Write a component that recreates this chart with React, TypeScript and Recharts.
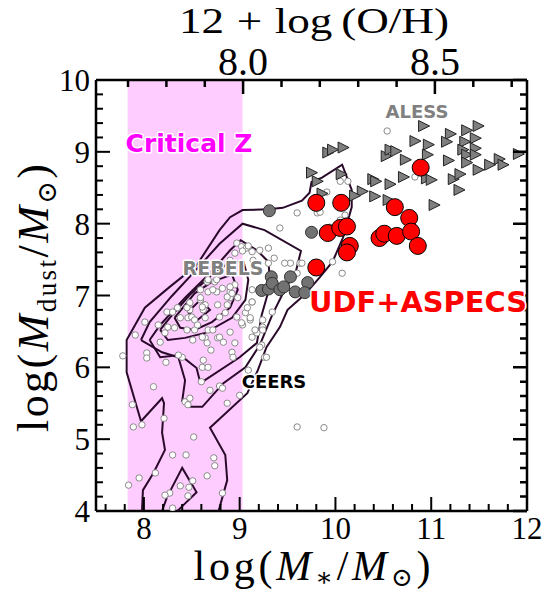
import { ComposedChart, Scatter, XAxis, YAxis, ReferenceArea } from "recharts";

// axis ticks
const massTicks = [7.6, 7.8, 8, 8.2, 8.4, 8.6, 8.8, 9, 9.2, 9.4, 9.6, 9.8, 10, 10.2, 10.4, 10.6, 10.8, 11, 11.2, 11.4, 11.6, 11.8, 12];
const massLabels = [8, 9, 10, 11, 12];
const dustTicks = [4, 4.2, 4.4, 4.6, 4.8, 5, 5.2, 5.4, 5.6, 5.8, 6, 6.2, 6.4, 6.6, 6.8, 7, 7.2, 7.4, 7.6, 7.8, 8, 8.2, 8.4, 8.6, 8.8, 9, 9.2, 9.4, 9.6, 9.8, 10];
const dustLabels = [4, 5, 6, 7, 8, 9, 10];
const ohTicks = [7.7, 7.8, 7.9, 8.0, 8.1, 8.2, 8.3, 8.4, 8.5, 8.6, 8.7];
const ohLabels = [8.0, 8.5];

const massDomain = [7.5, 12];
const dustDomain = [4, 10];
const ohDomain = [7.6165, 8.74];

// critical metallicity band (in stellar mass units)
const criticalZ = [7.83, 9.03];

// CEERS density contours
const contour1 = [
  { x: 8.78, y: 4.0 }, { x: 8.87, y: 4.43 }, { x: 8.85, y: 4.78 }, { x: 8.69, y: 5.16 }, { x: 9.08, y: 5.64 },
  { x: 9.19, y: 5.96 }, { x: 9.28, y: 6.28 }, { x: 9.42, y: 6.56 }, { x: 9.5, y: 6.8 }, { x: 9.65, y: 6.98 },
  { x: 9.75, y: 7.12 }, { x: 9.84, y: 7.26 }, { x: 9.97, y: 7.47 }, { x: 10.08, y: 7.81 }, { x: 10.17, y: 8.23 },
  { x: 10.17, y: 8.47 }, { x: 10.07, y: 8.82 }, { x: 9.86, y: 8.64 }, { x: 9.75, y: 8.58 }, { x: 9.73, y: 8.43 },
  { x: 9.65, y: 8.32 }, { x: 9.45, y: 8.22 }, { x: 9.3, y: 8.2 }, { x: 9.03, y: 8.19 }, { x: 8.9, y: 8.09 },
  { x: 8.79, y: 7.91 }, { x: 8.55, y: 7.42 }, { x: 8.27, y: 7.12 }, { x: 8.01, y: 6.83 }, { x: 7.82, y: 6.38 },
  { x: 7.82, y: 5.93 }, { x: 7.97, y: 5.25 }, { x: 8.19, y: 5.57 }, { x: 8.21, y: 5.5 }, { x: 8.19, y: 5.09 },
  { x: 8.22, y: 4.85 }, { x: 8.1, y: 4.53 }, { x: 7.99, y: 4.29 }, { x: 7.98, y: 4.0 },
];
const contour2 = [
  { x: 7.97, y: 6.38 }, { x: 8.06, y: 6.63 }, { x: 8.29, y: 6.99 }, { x: 8.54, y: 7.35 }, { x: 8.79, y: 7.72 },
  { x: 9.03, y: 8.0 }, { x: 9.26, y: 7.91 }, { x: 9.64, y: 7.62 }, { x: 9.59, y: 7.35 }, { x: 9.47, y: 7.08 },
  { x: 9.34, y: 6.73 }, { x: 9.21, y: 6.31 }, { x: 9.06, y: 6.0 }, { x: 8.83, y: 5.78 }, { x: 8.61, y: 5.45 },
  { x: 8.48, y: 5.45 }, { x: 8.4, y: 5.53 }, { x: 8.43, y: 5.82 }, { x: 8.36, y: 6.14 }, { x: 8.19, y: 6.21 },
  { x: 7.97, y: 6.38 },
];
const contour2b = [
  { x: 8.19, y: 4.0 }, { x: 8.24, y: 4.19 }, { x: 8.4, y: 4.6 }, { x: 8.55, y: 4.26 }, { x: 8.38, y: 4.04 }, { x: 8.35, y: 4.0 },
];
const contour3 = [
  { x: 8.06, y: 6.38 }, { x: 8.17, y: 6.59 }, { x: 8.43, y: 6.97 }, { x: 8.69, y: 7.31 }, { x: 8.9, y: 7.63 },
  { x: 9.01, y: 7.77 }, { x: 9.18, y: 7.63 }, { x: 9.3, y: 7.47 }, { x: 9.32, y: 7.15 }, { x: 9.23, y: 6.73 },
  { x: 9.18, y: 6.34 }, { x: 9.0, y: 6.14 }, { x: 8.59, y: 5.78 }, { x: 8.55, y: 5.99 }, { x: 8.38, y: 6.17 },
  { x: 8.17, y: 6.14 }, { x: 8.06, y: 6.38 },
];
const contour4 = [
  { x: 8.17, y: 6.52 }, { x: 8.27, y: 6.69 }, { x: 8.48, y: 7.01 }, { x: 8.71, y: 7.29 }, { x: 8.9, y: 7.47 },
  { x: 9.04, y: 7.47 }, { x: 9.09, y: 7.22 }, { x: 9.06, y: 6.94 }, { x: 8.92, y: 6.69 }, { x: 8.64, y: 6.48 },
  { x: 8.43, y: 6.41 }, { x: 8.25, y: 6.38 }, { x: 8.17, y: 6.52 },
];
const contour5 = [
  { x: 8.32, y: 6.69 }, { x: 8.53, y: 7.03 }, { x: 8.71, y: 7.19 }, { x: 8.92, y: 7.29 }, { x: 8.98, y: 7.08 },
  { x: 8.9, y: 6.83 }, { x: 8.71, y: 6.63 }, { x: 8.53, y: 6.52 }, { x: 8.38, y: 6.55 }, { x: 8.32, y: 6.69 },
];
const contour6 = [
  { x: 8.46, y: 6.77 }, { x: 8.59, y: 6.94 }, { x: 8.69, y: 6.8 }, { x: 8.56, y: 6.66 }, { x: 8.46, y: 6.77 },
];
const contours = [contour1, contour2, contour2b, contour3, contour4, contour5, contour6];

// CEERS galaxies
const ceers = [
  { x: 8.66, y: 7.19 }, { x: 8.74, y: 7.19 }, { x: 8.95, y: 7.15 }, { x: 8.59, y: 7.08 }, { x: 8.67, y: 7.05 },
  { x: 8.76, y: 7.05 }, { x: 8.9, y: 7.05 }, { x: 8.98, y: 6.97 }, { x: 8.9, y: 6.97 }, { x: 8.48, y: 6.9 },
  { x: 8.59, y: 6.94 }, { x: 8.64, y: 6.87 }, { x: 8.77, y: 6.87 }, { x: 8.87, y: 6.87 }, { x: 9.13, y: 6.91 },
  { x: 8.24, y: 6.77 }, { x: 8.35, y: 6.83 }, { x: 8.48, y: 6.8 }, { x: 8.62, y: 6.8 }, { x: 8.38, y: 6.69 },
  { x: 8.46, y: 6.69 }, { x: 8.64, y: 6.69 }, { x: 8.85, y: 6.76 }, { x: 8.97, y: 6.7 }, { x: 9.11, y: 6.66 },
  { x: 9.03, y: 6.59 }, { x: 8.01, y: 6.63 }, { x: 8.15, y: 6.59 }, { x: 8.45, y: 6.52 }, { x: 8.53, y: 6.52 },
  { x: 8.67, y: 6.52 }, { x: 9.24, y: 6.56 }, { x: 9.18, y: 6.48 }, { x: 7.91, y: 6.45 }, { x: 8.22, y: 6.48 },
  { x: 8.64, y: 6.41 }, { x: 8.77, y: 6.41 }, { x: 8.17, y: 6.35 }, { x: 8.51, y: 6.38 }, { x: 8.83, y: 6.35 },
  { x: 8.95, y: 6.34 }, { x: 9.23, y: 6.31 }, { x: 8.03, y: 6.2 }, { x: 8.03, y: 6.13 }, { x: 8.4, y: 6.14 },
  { x: 8.62, y: 6.1 }, { x: 8.7, y: 6.24 }, { x: 8.92, y: 6.21 }, { x: 8.93, y: 6.14 }, { x: 7.78, y: 6.16 },
  { x: 9.26, y: 6.14 }, { x: 8.61, y: 6.0 }, { x: 8.67, y: 6.0 }, { x: 9.09, y: 5.96 }, { x: 8.6, y: 5.8 },
  { x: 8.1, y: 5.73 }, { x: 8.69, y: 5.68 }, { x: 8.79, y: 5.74 }, { x: 8.82, y: 5.71 }, { x: 8.43, y: 5.52 },
  { x: 8.48, y: 5.57 }, { x: 8.46, y: 5.48 }, { x: 9.0, y: 5.61 }, { x: 8.87, y: 5.5 }, { x: 7.88, y: 5.48 },
  { x: 8.21, y: 5.29 }, { x: 7.89, y: 5.17 }, { x: 7.98, y: 5.2 }, { x: 9.6, y: 5.17 }, { x: 8.52, y: 5.03 },
  { x: 8.3, y: 4.78 }, { x: 8.44, y: 4.78 }, { x: 8.73, y: 4.74 }, { x: 8.74, y: 4.63 }, { x: 8.12, y: 4.53 },
  { x: 7.95, y: 4.46 }, { x: 8.66, y: 4.49 }, { x: 7.84, y: 4.36 }, { x: 8.38, y: 4.35 }, { x: 8.47, y: 4.33 },
  { x: 8.51, y: 4.42 }, { x: 8.27, y: 4.25 }, { x: 8.22, y: 4.22 }, { x: 8.46, y: 4.21 }, { x: 8.82, y: 4.25 },
  { x: 8.3, y: 4.04 }, { x: 9.88, y: 5.16 }, { x: 8.97, y: 7.73 }, { x: 9.02, y: 7.68 }, { x: 9.07, y: 7.66 },
  { x: 9.09, y: 7.69 }, { x: 9.03, y: 7.62 }, { x: 8.95, y: 7.59 }, { x: 8.9, y: 7.49 }, { x: 8.76, y: 7.22 },
  { x: 8.67, y: 7.22 }, { x: 8.72, y: 7.08 }, { x: 8.82, y: 7.1 }, { x: 8.9, y: 7.12 }, { x: 8.59, y: 6.97 },
  { x: 8.87, y: 6.98 }, { x: 8.92, y: 7.03 }, { x: 8.61, y: 6.84 }, { x: 8.45, y: 6.83 }, { x: 8.3, y: 6.77 },
  { x: 8.5, y: 6.7 }, { x: 8.53, y: 6.66 }, { x: 8.79, y: 6.7 }, { x: 9.06, y: 6.76 }, { x: 9.02, y: 6.62 },
  { x: 8.25, y: 6.56 }, { x: 8.32, y: 6.55 }, { x: 8.56, y: 6.59 }, { x: 8.72, y: 6.52 }, { x: 8.9, y: 6.49 },
  { x: 8.61, y: 6.42 }, { x: 8.79, y: 6.42 }, { x: 8.66, y: 6.34 }, { x: 8.36, y: 6.17 }, { x: 9.13, y: 7.61 },
  { x: 9.14, y: 7.49 }, { x: 9.16, y: 7.35 }, { x: 8.23, y: 6.07 }, { x: 9.21, y: 7.63 }, { x: 9.3, y: 7.66 },
  { x: 9.3, y: 7.45 }, { x: 9.36, y: 7.52 }, { x: 9.53, y: 7.45 }, { x: 9.63, y: 7.45 }, { x: 9.6, y: 7.31 },
  { x: 9.13, y: 7.08 }, { x: 9.13, y: 6.91 }, { x: 9.34, y: 6.77 }, { x: 9.24, y: 6.66 }, { x: 9.16, y: 6.52 },
  { x: 9.24, y: 6.52 }, { x: 9.13, y: 6.42 }, { x: 9.21, y: 6.28 }, { x: 9.28, y: 6.14 }, { x: 9.08, y: 6.83 },
  { x: 9.11, y: 6.69 }, { x: 10.07, y: 7.31 }, { x: 9.97, y: 7.47 }, { x: 9.6, y: 8.15 }, { x: 9.42, y: 7.94 },
  { x: 9.91, y: 8.44 }, { x: 10.05, y: 8.59 }, { x: 10.13, y: 8.59 }, { x: 9.81, y: 8.15 }, { x: 9.84, y: 8.16 },
  { x: 9.94, y: 7.95 }, { x: 10.05, y: 8.05 }, { x: 10.1, y: 8.12 }, { x: 9.65, y: 7.45 }, { x: 9.47, y: 7.45 },
  { x: 10.54, y: 9.29 }, { x: 10.83, y: 8.65 },
];

// REBELS galaxies
const rebels = [
  { x: 9.31, y: 8.18 }, { x: 9.75, y: 7.88 }, { x: 9.33, y: 7.26 }, { x: 9.53, y: 7.26 }, { x: 9.23, y: 7.07 },
  { x: 9.3, y: 7.09 }, { x: 9.34, y: 7.17 }, { x: 9.42, y: 7.08 }, { x: 9.46, y: 7.12 }, { x: 9.58, y: 7.05 },
  { x: 9.71, y: 7.18 }, { x: 9.68, y: 7.04 },
];

// ALESS galaxies
const aless = [
  { x: 10.92, y: 9.36 }, { x: 11.2, y: 9.25 }, { x: 11.37, y: 9.3 }, { x: 11.49, y: 9.36 }, { x: 10.83, y: 9.15 },
  { x: 10.97, y: 9.1 }, { x: 11.16, y: 9.14 }, { x: 11.35, y: 9.14 }, { x: 11.46, y: 9.19 }, { x: 9.92, y: 8.99 },
  { x: 9.97, y: 9.03 }, { x: 10.08, y: 9.06 }, { x: 10.53, y: 8.94 }, { x: 10.57, y: 9.03 }, { x: 10.63, y: 9.01 },
  { x: 10.73, y: 8.89 }, { x: 10.96, y: 8.96 }, { x: 11.18, y: 8.88 }, { x: 11.33, y: 9.03 }, { x: 11.37, y: 8.96 },
  { x: 11.46, y: 9.05 }, { x: 11.46, y: 8.96 }, { x: 11.37, y: 8.85 }, { x: 11.61, y: 8.82 }, { x: 11.71, y: 8.9 },
  { x: 11.75, y: 8.82 }, { x: 11.91, y: 8.97 }, { x: 9.75, y: 8.71 }, { x: 9.81, y: 8.59 }, { x: 10.06, y: 8.69 },
  { x: 10.39, y: 8.62 }, { x: 10.42, y: 8.59 }, { x: 10.57, y: 8.55 }, { x: 10.71, y: 8.65 }, { x: 10.95, y: 8.63 },
  { x: 11.0, y: 8.61 }, { x: 11.23, y: 8.62 }, { x: 11.3, y: 8.69 }, { x: 11.49, y: 8.75 }, { x: 10.28, y: 8.45 },
  { x: 10.2, y: 8.39 }, { x: 10.41, y: 8.38 }, { x: 10.55, y: 8.33 }, { x: 11.03, y: 8.26 }, { x: 11.29, y: 8.47 },
  { x: 9.86, y: 8.42 },
];

// UDF + ASPECS galaxies
const udf = [
  { x: 9.8, y: 8.29 }, { x: 10.06, y: 8.29 }, { x: 10.62, y: 8.23 }, { x: 10.77, y: 8.08 }, { x: 9.92, y: 7.87 },
  { x: 10.05, y: 7.94 }, { x: 10.12, y: 7.96 }, { x: 10.15, y: 7.69 }, { x: 10.12, y: 7.6 }, { x: 10.46, y: 7.8 },
  { x: 10.51, y: 7.86 }, { x: 10.64, y: 7.83 }, { x: 10.79, y: 7.89 }, { x: 10.86, y: 7.69 }, { x: 10.89, y: 8.78 },
  { x: 9.8, y: 7.39 },
];

// anchors so the metallicity axis and the right axis have something bound to them
const ohAnchors = ohTicks.map((v) => ({ x: v, y: 4 }));

const SERIF = "'Liberation Serif', 'DejaVu Serif', serif";
const SANS = "'DejaVu Sans', sans-serif";
const contourColor = "#2a0a2a";

// chart frame (plot box is 431px square at 96,80)
const MARGIN = { top: 40, right: 8, bottom: 42, left: 46 };
const PLOT = { left: 96, top: 80, size: 431 };
const MAJOR_PX = 14;
const MINOR_PX = 7;

// same linear maps the number axes use, for the mirrored inward ticks on top/right
const ohToPx = (v: number) => PLOT.left + ((v - ohDomain[0]) / (ohDomain[1] - ohDomain[0])) * PLOT.size;
const dustToPx = (v: number) => PLOT.top + ((dustDomain[1] - v) / (dustDomain[1] - dustDomain[0])) * PLOT.size;

const isOhMajor = (v: number) => ohLabels.some((l) => Math.abs(l - v) < 1e-6);

// one path for each mirrored tick row
const topTickPath = ohTicks
  .map((v) => `M${ohToPx(v).toFixed(1)},${PLOT.top} v${isOhMajor(v) ? MAJOR_PX : MINOR_PX}`)
  .join(" ");
const rightTickPath = dustTicks
  .map((v) => `M${PLOT.left + PLOT.size},${dustToPx(v).toFixed(1)} h${-(dustLabels.includes(v) ? MAJOR_PX : MINOR_PX)}`)
  .join(" ");

const BottomTick = (p: any) => {
  const major = massLabels.includes(p.payload.value);
  return (
    <g>
      <line x1={p.x} x2={p.x} y1={p.y} y2={p.y - (major ? MAJOR_PX : MINOR_PX)} stroke="#000" strokeWidth={2} />
      {major && (
        <text x={p.x} y={p.y + 28} textAnchor="middle" fontFamily={SERIF} fontSize={31} fill="#000" stroke="none">
          {p.payload.value}
        </text>
      )}
    </g>
  );
};

const TopTick = (p: any) => {
  if (!isOhMajor(Number(p.payload.value))) return <g />;
  return (
    <text x={p.x} y={Number(p.y) - 5} textAnchor="middle" fontFamily={SERIF} fontSize={40} fill="#000" stroke="none">
      {Number(p.payload.value).toFixed(1)}
    </text>
  );
};

const LeftTick = (p: any) => {
  const major = dustLabels.includes(p.payload.value);
  return (
    <g>
      <line x1={p.x} x2={p.x + (major ? MAJOR_PX : MINOR_PX)} y1={p.y} y2={p.y} stroke="#000" strokeWidth={2} />
      {major && (
        <text x={p.x - 6} y={p.y + 11} textAnchor="end" fontFamily={SERIF} fontSize={31} fill="#000" stroke="none">
          {p.payload.value}
        </text>
      )}
    </g>
  );
};

const NoDot = () => <g />;
const OpenDot = (p: any) => (
  <circle cx={p.cx} cy={p.cy} r={3.2} fill="#fff" stroke="#8a8a8a" strokeWidth={1} />
);
const RebelsDot = (p: any) => (
  <circle cx={p.cx} cy={p.cy} r={6} fill="#727272" stroke="#333" strokeWidth={1} />
);
const AlessTri = (p: any) => (
  <polygon
    points={`${p.cx - 5},${p.cy - 5.5} ${p.cx - 5},${p.cy + 5.5} ${p.cx + 6},${p.cy}`}
    fill="#7f7f7f"
    stroke="#222"
    strokeWidth={1}
  />
);
const UdfDot = (p: any) => (
  <circle cx={p.cx} cy={p.cy} r={8.5} fill="#ff0000" stroke="#000" strokeWidth={1} />
);

const axisLine = { stroke: "#000", strokeWidth: 2.5 };

export default function App() {
  return (
    <div style={{ position: "absolute", left: 0, top: 0, width: 545, height: 593, background: "#fff" }}>
      <ComposedChart width={545} height={593} margin={MARGIN}>
        <ReferenceArea
          x1={criticalZ[0]}
          x2={criticalZ[1]}
          y1={4}
          y2={10}
          fill="#ffccff"
          fillOpacity={1}
          stroke="none"
        />
        <XAxis
          dataKey="x"
          type="number"
          domain={massDomain}
          ticks={massTicks}
          interval={0}
          height={40}
          tickSize={0}
          tickMargin={0}
          axisLine={axisLine}
          tickLine={false}
          tick={BottomTick}
          allowDataOverflow
        />
        <XAxis
          xAxisId="oh"
          orientation="top"
          dataKey="x"
          type="number"
          domain={ohDomain}
          ticks={ohTicks}
          interval={0}
          height={40}
          tickSize={0}
          tickMargin={0}
          axisLine={axisLine}
          tickLine={false}
          tick={TopTick}
          allowDataOverflow
        />
        <YAxis
          dataKey="y"
          type="number"
          domain={dustDomain}
          ticks={dustTicks}
          interval={0}
          width={50}
          tickSize={0}
          tickMargin={0}
          axisLine={axisLine}
          tickLine={false}
          tick={LeftTick}
          allowDataOverflow
        />
        <YAxis
          yAxisId="r"
          orientation="right"
          dataKey="y"
          type="number"
          domain={dustDomain}
          ticks={dustTicks}
          interval={0}
          width={10}
          tickSize={0}
          tickMargin={0}
          axisLine={axisLine}
          tickLine={false}
          tick={false}
          allowDataOverflow
        />
        <Scatter data={ohAnchors} xAxisId="oh" yAxisId="r" shape={NoDot} isAnimationActive={false} />
        {contours.map((c, i) => (
          <Scatter
            key={`c${i}`}
            data={c}
            line={{ stroke: contourColor, strokeWidth: 2, fill: "none" }}
            lineType="joint"
            shape={NoDot}
            isAnimationActive={false}
          />
        ))}
        <Scatter data={ceers} shape={OpenDot} isAnimationActive={false} />
        <Scatter data={rebels} shape={RebelsDot} isAnimationActive={false} />
        <Scatter data={aless} shape={AlessTri} isAnimationActive={false} />
        <Scatter data={udf} shape={UdfDot} isAnimationActive={false} />
      </ComposedChart>
      <svg width={545} height={593} style={{ position: "absolute", left: 0, top: 0, pointerEvents: "none" }}>
        <path d={topTickPath} stroke="#000" strokeWidth={2.5} fill="none" />
        <path d={rightTickPath} stroke="#000" strokeWidth={2.5} fill="none" />
        <text x={314} y={33} textAnchor="middle" fontFamily={SERIF} fontSize={36} textLength={270} lengthAdjust="spacingAndGlyphs">
          12<tspan dx={10}>+</tspan>
          <tspan dx={10}>log</tspan>
          <tspan dx={7}>(O/H)</tspan>
        </text>
        <text x={312} y={580} textAnchor="middle" fontFamily={SERIF} fontSize={42} textLength={237} lengthAdjust="spacing">
          log(<tspan fontStyle="italic">M</tspan>
          <tspan dy={6} fontSize={26}>∗</tspan>
          <tspan dy={-6}>/</tspan>
          <tspan fontStyle="italic">M</tspan>
          <tspan dy={6} fontSize={26}>⊙</tspan>
          <tspan dy={-6}>)</tspan>
        </text>
        <text
          x={0}
          y={0}
          transform="translate(48,298) rotate(-90)"
          textAnchor="middle"
          fontFamily={SERIF}
          fontSize={44}
          textLength={268}
          lengthAdjust="spacing"
        >
          log(<tspan fontStyle="italic">M</tspan>
          <tspan dy={8} fontSize={27}>dust</tspan>
          <tspan dy={-8}>/</tspan>
          <tspan fontStyle="italic">M</tspan>
          <tspan dy={8} fontSize={27}>⊙</tspan>
          <tspan dy={-8}>)</tspan>
        </text>
        <g fontFamily={SANS} fontWeight="bold" stroke="#fff" strokeWidth={3} paintOrder="stroke" strokeLinejoin="round">
          <text x={189} y={152} textAnchor="middle" fontSize={25} fill="#ff00ff">Critical Z</text>
          <text x={223} y={275} textAnchor="middle" fontSize={19} fill="#808080">REBELS</text>
          <text x={417} y={118} textAnchor="middle" fontSize={18} fill="#808080">ALESS</text>
          <text x={274} y={388} textAnchor="middle" fontSize={18} fill="#000">CEERS</text>
          <text x={418} y={312} textAnchor="middle" fontSize={28} fill="#ff0000" textLength={218} lengthAdjust="spacingAndGlyphs">UDF+ASPECS</text>
        </g>
      </svg>
    </div>
  );
}
